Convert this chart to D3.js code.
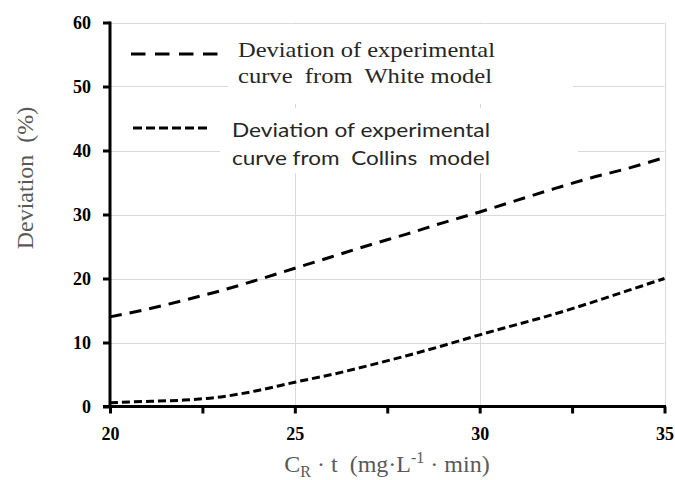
<!DOCTYPE html>
<html>
<head>
<meta charset="utf-8">
<script src="https://cdn.jsdelivr.net/npm/d3@7"></script>
<style>
  html, body { margin: 0; padding: 0; background: #fff; }
  svg { display: block; }
  text { white-space: pre; }
</style>
</head>
<body>
<div id="chart"></div>
<script>
// ---- data ----
const xValues = [20, 21, 22, 23, 24, 25, 26, 27, 28, 29, 30, 31, 32, 33, 34, 35];
const whiteDeviation = [14.0, 15.2, 16.6, 18.1, 19.8, 21.6, 23.4, 25.2, 26.9, 28.7, 30.4, 32.2, 34.0, 35.7, 37.2, 38.9];
const collinsDeviation = [0.6, 0.8, 1.0, 1.5, 2.5, 3.8, 5.0, 6.4, 7.9, 9.5, 11.2, 12.8, 14.4, 16.2, 18.1, 20.0];
const xTicks = [20, 25, 30, 35];
const xMinorTicks = [22.5, 27.5, 32.5];
const yTicks = [0, 10, 20, 30, 40, 50, 60];
const legendWhite = ["Deviation of experimental", "curve  from  White model"];
const legendCollins = ["Deviation of experimental", "curve from  Collins  model"];

// ---- layout ----
const W = 675, H = 480;
const svg = d3.select("#chart").append("svg").attr("width", W).attr("height", H);

const x = d3.scaleLinear().domain([20, 35]).range([110, 664.5]);
const y = d3.scaleLinear().domain([0, 60]).range([406.5, 22.5]);

const serif = "'Liberation Serif', 'Times New Roman', serif";

// gridlines
const grid = svg.append("g");
grid.selectAll("line.h").data(yTicks.filter(d => d > 0)).join("line")
  .attr("x1", x(20)).attr("x2", x(35))
  .attr("y1", d => Math.round(y(d)) + 0.5).attr("y2", d => Math.round(y(d)) + 0.5)
  .attr("stroke", "#d9d9d9").attr("stroke-width", 1);
grid.selectAll("line.v").data(xTicks.filter(d => d > 20)).join("line")
  .attr("x1", d => Math.round(x(d)) + 0.5).attr("x2", d => Math.round(x(d)) + 0.5)
  .attr("y1", y(60)).attr("y2", y(0))
  .attr("stroke", "#d9d9d9").attr("stroke-width", 1);

// legend boxes (white backgrounds hiding gridlines)
svg.append("rect").attr("x", 228).attr("y", 24).attr("width", 345).attr("height", 80).attr("fill", "#fff");
svg.append("rect").attr("x", 220).attr("y", 108).attr("width", 358).attr("height", 65).attr("fill", "#fff");

// legend samples
svg.append("line").attr("x1", 131).attr("x2", 218).attr("y1", 54).attr("y2", 54)
  .attr("stroke", "#000").attr("stroke-width", 3).attr("stroke-dasharray", "14.5,9.5");
svg.append("line").attr("x1", 133).attr("x2", 210).attr("y1", 128).attr("y2", 128)
  .attr("stroke", "#000").attr("stroke-width", 3).attr("stroke-dasharray", "9,4");

// legend texts
const lt1 = svg.append("g").attr("font-family", serif).attr("font-size", 21).attr("fill", "#262626");
lt1.selectAll("text").data(legendWhite).join("text")
  .attr("x", 238).attr("y", (d, i) => 57 + i * 26)
  .attr("textLength", (d, i) => i === 0 ? 257 : 254)
  .attr("lengthAdjust", "spacingAndGlyphs")
  .text(d => d);
const lt2 = svg.append("g").attr("font-family", "Lato, 'Open Sans', sans-serif").attr("font-size", 20).attr("fill", "#262626");
lt2.selectAll("text").data(legendCollins).join("text")
  .attr("x", 232).attr("y", (d, i) => 137 + i * 28)
  .attr("textLength", 258)
  .attr("lengthAdjust", "spacingAndGlyphs")
  .text(d => d);

// curves
const line = d3.line().x(d => x(d[0])).y(d => y(d[1])).curve(d3.curveCatmullRom);
svg.append("path").datum(xValues.map((v, i) => [v, whiteDeviation[i]]))
  .attr("d", line).attr("fill", "none").attr("stroke", "#000")
  .attr("stroke-width", 3).attr("stroke-dasharray", "12,8");
svg.append("path").datum(xValues.map((v, i) => [v, collinsDeviation[i]]))
  .attr("d", line).attr("fill", "none").attr("stroke", "#000")
  .attr("stroke-width", 3).attr("stroke-dasharray", "8,4");

// axes
const yAxis = d3.axisLeft(y).tickValues(yTicks).tickSize(7).tickPadding(12);
const gy = svg.append("g").attr("transform", `translate(${x(20)},0)`).call(yAxis);
gy.select(".domain").remove();
gy.selectAll(".tick line").attr("stroke", "#000").attr("stroke-width", 3);
gy.selectAll(".tick text").attr("font-family", serif).attr("font-weight", "bold")
  .attr("font-size", 18).attr("fill", "#000");

const xAxis = d3.axisBottom(x).tickValues(xTicks.concat(xMinorTicks)).tickSize(7)
  .tickFormat(d => xTicks.includes(d) ? d : "").tickPadding(14);
const gx = svg.append("g").attr("transform", `translate(0,${y(0)})`).call(xAxis);
gx.select(".domain").remove();
gx.selectAll(".tick line").attr("stroke", "#000").attr("stroke-width", 3);
gx.selectAll(".tick text").attr("font-family", serif).attr("font-weight", "bold")
  .attr("font-size", 18).attr("fill", "#000");

// axis lines
svg.append("line").attr("x1", x(20)).attr("x2", x(20)).attr("y1", y(60) - 1).attr("y2", y(0) + 1.5)
  .attr("stroke", "#000").attr("stroke-width", 3);
svg.append("line").attr("x1", x(20) - 7).attr("x2", x(35) + 1.5).attr("y1", y(0)).attr("y2", y(0))
  .attr("stroke", "#000").attr("stroke-width", 3);

// axis titles
const xt = svg.append("text").attr("x", 387).attr("y", 472).attr("text-anchor", "middle")
  .attr("font-family", serif).attr("font-size", 24).attr("fill", "#595959");
xt.append("tspan").text("C");
xt.append("tspan").attr("font-size", 16).attr("dy", 5).text("R");
xt.append("tspan").attr("dy", -5).text(" · t  (mg·L");
xt.append("tspan").attr("font-size", 16).attr("dy", -9).text("-1");
xt.append("tspan").attr("dy", 9).text(" · min)");

svg.append("text").attr("transform", "translate(33,178) rotate(-90)")
  .attr("text-anchor", "middle").attr("font-family", serif).attr("font-size", 24)
  .attr("fill", "#595959").text("Deviation  (%)");
</script>
</body>
</html>
